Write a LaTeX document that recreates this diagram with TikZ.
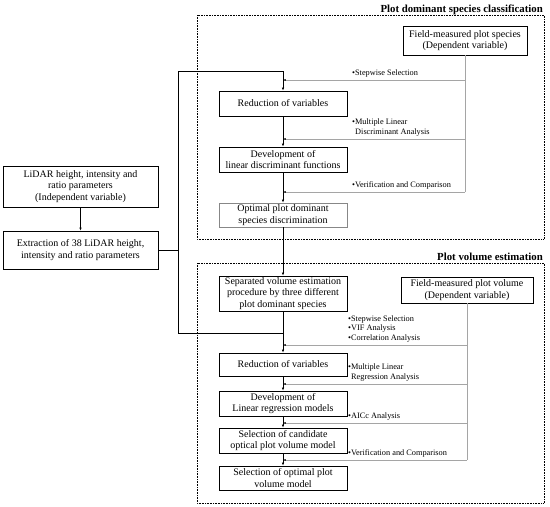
\documentclass[tikz,border=0pt]{standalone}
\usepackage{fontspec}
\setmainfont{Liberation Serif}
\usetikzlibrary{arrows.meta}

\definecolor{linegrey}{RGB}{165,165,165}
\definecolor{boxgrey}{RGB}{135,135,135}

\begin{document}
\begin{tikzpicture}[x=1pt,y=-1pt,
	box/.style={draw,line width=0.7pt,align=center,inner sep=0pt,
		font=\fontsize{10}{11.2}\selectfont},
	note/.style={anchor=south west,align=left,inner sep=1pt,
		font=\fontsize{8.3}{9.7}\selectfont},
	title/.style={anchor=base east,inner sep=0pt,font=\fontsize{10.8}{12}\selectfont\bfseries},
	frame/.style={densely dotted,line width=0.6pt},
	arr/.style={line width=0.7pt,-{Latex[length=3pt,width=2.4pt]}},
	garr/.style={draw=linegrey,line width=0.6pt,-{Latex[length=2.5pt,width=2pt,color=black]}}]
	\useasboundingbox (0,0) rectangle (550,507);

	% frames and titles
	\draw [frame] (197,15) rectangle (544,239);
	\draw [frame] (197,263) rectangle (544,503);
	\node [title] (t1) at (543,12) {Plot dominant species classification};
	\node [title] (t2) at (543,260) {Plot volume estimation};

	% left column
	\node [box,minimum width=155,minimum height=41] (lidar) at (80.5,186.5)
		{LiDAR height, intensity and\\ratio parameters\\(Independent variable)};
	\node [box,minimum width=155,minimum height=38] (extract) at (80.5,250)
		{Extraction of 38 LiDAR height,\\intensity and ratio parameters};

	% species classification
	\node [box,minimum width=124,minimum height=29] (fspecies) at (465,40.5)
		{Field-measured plot species\\(Dependent variable)};
	\node [box,minimum width=128,minimum height=25] (red1) at (283,103.5)
		{Reduction of variables};
	\node [box,minimum width=128,minimum height=25] (dev1) at (283,159.5)
		{Development of\\linear discriminant functions};
	\node [box,draw=boxgrey,minimum width=128,minimum height=24] (opt1) at (283,215)
		{Optimal plot dominant\\species discrimination};

	% volume estimation
	\node [box,minimum width=128,minimum height=35] (sep) at (283,293.5)
		{Separated volume estimation\\procedure by three different\\plot dominant species};
	\node [box,minimum width=132,minimum height=26] (fvolume) at (467,290)
		{Field-measured plot volume\\(Dependent variable)};
	\node [box,minimum width=128,minimum height=23] (red2) at (283,364.5)
		{Reduction of variables};
	\node [box,minimum width=128,minimum height=25] (dev2) at (283,403.5)
		{Development of\\Linear regression models};
	\node [box,minimum width=128,minimum height=25] (cand) at (283,440.5)
		{Selection of candidate\\optical plot volume model};
	\node [box,minimum width=128,minimum height=24] (final) at (283,478)
		{Selection of optimal plot\\volume model};

	% main flow
	\coordinate (join) at (178,250);
	\coordinate (ctop) at (178,71);
	\coordinate (cbot) at (178,333);
	\draw [arr] (lidar) -- (extract);
	\draw [line width=0.7pt] (extract.east) -- (join);
	\draw [arr] (ctop) -| (red1.north);
	\draw [line width=0.7pt] (ctop) -- (cbot) -- (cbot -| sep.south);
	\draw [arr] (red1) -- (dev1);
	\draw [arr] (dev1) -- (opt1);
	\draw [arr] (opt1) -- (sep);
	\draw [arr] (sep) -- (red2);
	\draw [arr] (red2) -- (dev2);
	\draw [arr] (dev2) -- (cand);
	\draw [arr] (cand) -- (final);

	% dependent variable, species
	\coordinate (s1) at (465,80);
	\coordinate (s2) at (465,139);
	\coordinate (s3) at (465,192);
	\draw [draw=linegrey,line width=0.6pt] (fspecies.south) -- (s3);
	\draw [garr] (s1) -- (s1 -| red1.north);
	\draw [garr] (s2) -- (s2 -| red1.north);
	\draw [garr] (s3) -- (s3 -| red1.north);
	\node [note] (n1) at (351,78.5) {\textbullet Stepwise Selection};
	\node [note] (n2) at (351,137.5) {\textbullet Multiple Linear\\\hspace*{3pt}Discriminant Analysis};
	\node [note] (n3) at (351,190.5) {\textbullet Verification and Comparison};

	% dependent variable, volume
	\coordinate (v1) at (467,345);
	\coordinate (v2) at (467,384);
	\coordinate (v3) at (467,423);
	\coordinate (v4) at (467,460);
	\draw [draw=linegrey,line width=0.6pt] (fvolume.south) -- (v4);
	\draw [garr] (v1) -- (v1 -| red2.north);
	\draw [garr] (v2) -- (v2 -| red2.north);
	\draw [garr] (v3) -- (v3 -| red2.north);
	\draw [garr] (v4) -- (v4 -| red2.north);
	\node [note] (n4) at (347,343.5) {\textbullet Stepwise Selection\\\textbullet VIF Analysis\\\textbullet Correlation Analysis};
	\node [note] (n5) at (347,382.5) {\textbullet Multiple Linear\\\hspace*{3pt}Regression Analysis};
	\node [note] (n6) at (347,421.5) {\textbullet AICc Analysis};
	\node [note] (n7) at (347,458.5) {\textbullet Verification and Comparison};
\end{tikzpicture}
\end{document}
